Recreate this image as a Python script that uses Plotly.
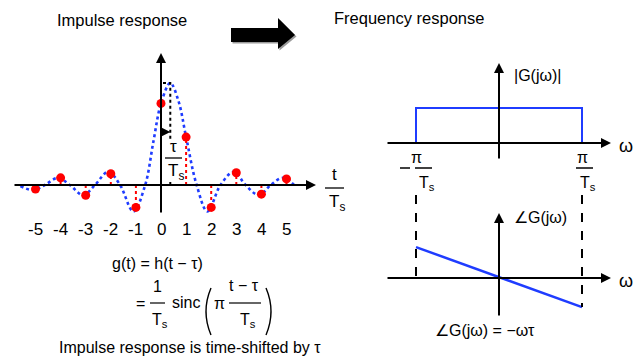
import plotly.graph_objects as go

# ---------------- data ----------------
tau = 0.37  # time shift in units of Ts

# continuous impulse response
curve_t = [-5.6, -5.1, -4.63, -4.1, -3.63, -3.1, -2.63, -2.1, -1.63, -1.1, -0.63,
           -0.3, 0.0, 0.37, 0.7, 1.0, 1.42, 1.85, 2.37, 2.9, 3.37, 3.9, 4.37, 4.85, 5.3]
curve_g = [-0.01, -0.05, 0.0, 0.07, 0.0, -0.10, 0.0, 0.13, 0.0, -0.26, 0.0,
           0.43, 0.80, 1.0, 0.82, 0.47, 0.0, -0.26, 0.0, 0.13, 0.0, -0.10, 0.0, 0.07, 0.0]

# sampled values (red dots)
sample_t = [-5, -4, -3, -2, -1, 0, 1, 2, 3, 4, 5]
sample_g = [-0.04, 0.07, -0.10, 0.11, -0.22, 0.80, 0.47, -0.22, 0.12, -0.09, 0.06]
tick_labels = ["-5", "-4", "-3", "-2", "-1", "0", "1", "2", "3", "4", "5"]

# frequency response (omega in units of pi/Ts)
mag_w = [-1, -1, 1, 1]
mag_v = [0, 1, 1, 0]
phase_w = [-1, 1]
phase_v = [1.03, -0.97]

# ---------------- styling helpers ----------------
W, H = 641, 358
OFF = 8  # page body margin of the html page
FONT = "Liberation Sans, Arial, sans-serif"
BLUE = "#1f3cff"
RED = "#ff0000"

# geometry in window pixels
L_X0, L_UX, L_Y0, L_UY = 161.0, 25.1, 185.0, 102.0
R_X0, R_UX = 499.0, 83.0
M_Y0, M_UY = 143.0, 35.0
P_Y0, P_UY = 278.0, 30.0

def lx(px): return (px - L_X0) / L_UX
def ly(py): return (L_Y0 - py) / L_UY
def rx(px): return (px - R_X0) / R_UX
def rm(py): return (M_Y0 - py) / M_UY
def rp(py): return (P_Y0 - py) / P_UY
def pxp(px): return (px - OFF) / W
def pyp(py): return 1 - (py - OFF) / H

fig = go.Figure()

# sinc curve (blue dotted)
fig.add_trace(go.Scatter(x=curve_t, y=curve_g, mode="lines",
                         line=dict(color=BLUE, width=2.6, dash="dot", shape="spline", smoothing=1.0),
                         xaxis="x", yaxis="y", hoverinfo="skip"))

# red stems
stem_x, stem_y = [], []
for t, g in zip(sample_t, sample_g):
    stem_x += [t, t, None]
    stem_y += [0, g, None]
fig.add_trace(go.Scatter(x=stem_x, y=stem_y, mode="lines",
                         line=dict(color=RED, width=2, dash="dot"),
                         xaxis="x", yaxis="y", hoverinfo="skip"))

# black dotted L at the peak (shift tau), interrupted by the tau/Ts label
fig.add_trace(go.Scatter(x=[0.08, tau, tau, None, tau, tau],
                         y=[1.0, 1.0, 0.44, None, 0.03, 0.0], mode="lines",
                         line=dict(color="black", width=2, dash="dot"),
                         xaxis="x", yaxis="y", hoverinfo="skip"))

# red dots
fig.add_trace(go.Scatter(x=sample_t, y=sample_g, mode="markers",
                         marker=dict(color=RED, size=9),
                         xaxis="x", yaxis="y", hoverinfo="skip"))

# magnitude rectangle
fig.add_trace(go.Scatter(x=mag_w, y=mag_v, mode="lines",
                         line=dict(color=BLUE, width=2),
                         xaxis="x2", yaxis="y2", hoverinfo="skip"))

# phase line
fig.add_trace(go.Scatter(x=phase_w, y=phase_v, mode="lines",
                         line=dict(color=BLUE, width=2.5),
                         xaxis="x2", yaxis="y3", hoverinfo="skip"))

shapes = []
annotations = []

def arrow(x0, y0, x1, y1, xref, yref, width=1.8, size=1.0, head=2):
    annotations.append(dict(x=x1, y=y1, ax=x0, ay=y0, xref=xref, yref=yref,
                            axref=xref, ayref=yref, text="", showarrow=True,
                            arrowhead=head, arrowsize=size, arrowwidth=width,
                            arrowcolor="black", standoff=0, startstandoff=0))

def line(x0, y0, x1, y1, xref, yref, width=1.5, dash="solid", color="black"):
    shapes.append(dict(type="line", x0=x0, y0=y0, x1=x1, y1=y1, xref=xref, yref=yref,
                       line=dict(color=color, width=width, dash=dash), layer="above"))

def text(s, x, y, xref, yref, size=16, xanchor="center", yanchor="middle"):
    annotations.append(dict(text=s, x=x, y=y, xref=xref, yref=yref, showarrow=False,
                            xanchor=xanchor, yanchor=yanchor,
                            font=dict(family=FONT, size=size, color="black")))

def paren(x_end, x_mid, y_top, y_bot):
    p = (f"M {pxp(x_end):.5f},{pyp(y_top):.5f} "
         f"Q {pxp(x_mid):.5f},{pyp((y_top + y_bot) / 2):.5f} {pxp(x_end):.5f},{pyp(y_bot):.5f}")
    shapes.append(dict(type="path", path=p, xref="paper", yref="paper",
                       line=dict(color="black", width=1.4), layer="above"))

# ----- left axes -----
arrow(lx(13), 0, lx(316), 0, "x", "y", width=2)
arrow(0, ly(214), 0, ly(53), "x", "y", width=2)
# shift arrow
arrow(0, 0.52, tau, 0.52, "x", "y", width=2)

# tick labels
for t, lab in zip(sample_t, tick_labels):
    text(lab, t, pyp(229), "x", "paper", size=17)

# t / Ts axis label
text("t", pxp(334), pyp(174), "paper", "paper", size=17)
line(pxp(325), pyp(188), pxp(344), pyp(188), "paper", "paper", width=1.3)
text("T<sub>s</sub>", pxp(337), pyp(203), "paper", "paper", size=17)

# tau / Ts label
text("τ", pxp(173), pyp(146), "paper", "paper", size=17)
line(pxp(165), pyp(158), pxp(182), pyp(158), "paper", "paper", width=1.3)
text("T<sub>s</sub>", pxp(176), pyp(172), "paper", "paper", size=17)

# formula
text("g(t) = h(t − τ)", pxp(157), pyp(263), "paper", "paper", size=16)
text("=", pxp(140), pyp(303), "paper", "paper", size=16)
text("1", pxp(157), pyp(286), "paper", "paper", size=16)
line(pxp(150), pyp(303), pxp(165), pyp(303), "paper", "paper", width=1.2)
text("T<sub>s</sub>", pxp(160), pyp(320), "paper", "paper", size=16)
text("sinc", pxp(186), pyp(302), "paper", "paper", size=16)
paren(211, 201, 288, 335)
text("π", pxp(219), pyp(303), "paper", "paper", size=16)
text("t − τ", pxp(244), pyp(285), "paper", "paper", size=16)
line(pxp(229), pyp(303), pxp(261), pyp(303), "paper", "paper", width=1.2)
text("T<sub>s</sub>", pxp(248), pyp(320), "paper", "paper", size=16)
paren(266, 276, 288, 335)
text("Impulse response is time-shifted by τ", pxp(190), pyp(347), "paper", "paper", size=16)

# titles
text("Impulse response", pxp(122), pyp(20), "paper", "paper", size=16.5)
text("Frequency response", pxp(409), pyp(18), "paper", "paper", size=16.5)

# big arrow with shadow
def big_arrow(dx, dy, color):
    pts = [(231, 28), (278, 28), (278, 18), (295, 35), (278, 49), (278, 42), (231, 42)]
    p = "M " + " L ".join(f"{pxp(x + dx):.5f},{pyp(y + dy):.5f}" for x, y in pts) + " Z"
    shapes.append(dict(type="path", path=p, xref="paper", yref="paper",
                       fillcolor=color, line=dict(width=0), layer="above"))
big_arrow(1.5, 1.5, "#9a9a9a")
big_arrow(0, 0, "black")

# ----- right top (magnitude) -----
arrow(rx(386), 0, rx(611), 0, "x2", "y2", width=2)
arrow(0, rm(160), 0, rm(63), "x2", "y2", width=2)
text("|G(jω)|", rx(512), rm(75), "x2", "y2", size=16, xanchor="left")
text("ω", rx(617), rm(146), "x2", "y2", size=18, xanchor="left")
# -pi/Ts and pi/Ts
line(rx(400), rm(168), rx(410), rm(168), "x2", "y2", width=1.3)
text("π", -1, rm(157), "x2", "y2", size=16)
line(rx(415), rm(168), rx(432), rm(168), "x2", "y2", width=1.3)
text("T<sub>s</sub>", rx(427), rm(183), "x2", "y2", size=16)
text("π", 1, rm(157), "x2", "y2", size=16)
line(rx(576), rm(168), rx(593), rm(168), "x2", "y2", width=1.3)
text("T<sub>s</sub>", rx(588), rm(183), "x2", "y2", size=16)

# ----- right bottom (phase) -----
arrow(rx(386), 0, rx(611), 0, "x2", "y3", width=2)
arrow(0, rp(317), 0, rp(213), "x2", "y3", width=2)
text("∠G(jω)", rx(512), rp(217), "x2", "y3", size=16, xanchor="left")
text("ω", rx(617), rp(281), "x2", "y3", size=18, xanchor="left")
text("∠G(jω) = −ωτ", rx(485), rp(330), "x2", "y3", size=16)

# dashed connectors
line(-1, rp(195), -1, 0, "x2", "y3", width=2, dash="dash")
line(1, rp(195), 1, phase_v[1], "x2", "y3", width=2, dash="dash")

ax_common = dict(visible=False, showgrid=False, zeroline=False, fixedrange=True)
fig.update_layout(
    width=W, height=H, autosize=False,
    margin=dict(l=0, r=0, t=0, b=0),
    paper_bgcolor="white", plot_bgcolor="rgba(0,0,0,0)",
    showlegend=False,
    xaxis=dict(domain=[0, 0.55], range=[lx(OFF), lx(0.55 * W + OFF)], anchor="y", **ax_common),
    yaxis=dict(domain=[0, 1], range=[ly(H + OFF), ly(OFF)], anchor="x", **ax_common),
    xaxis2=dict(domain=[0.55, 1], range=[rx(0.55 * W + OFF), rx(W + OFF)], anchor="y2", **ax_common),
    yaxis2=dict(domain=[0, 1], range=[rm(H + OFF), rm(OFF)], anchor="x2", **ax_common),
    yaxis3=dict(domain=[0, 1], range=[rp(H + OFF), rp(OFF)], anchor="x2", **ax_common),
    shapes=shapes,
    annotations=annotations,
)

fig.write_html("out.html")
